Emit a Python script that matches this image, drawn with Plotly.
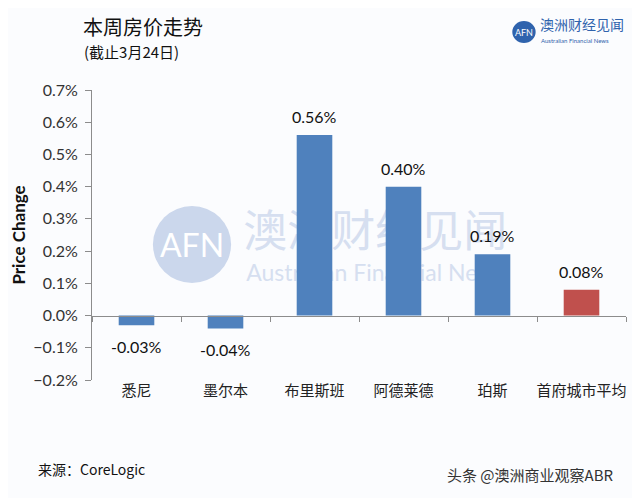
import plotly.graph_objects as go

cities = ["悉尼", "墨尔本", "布里斯班", "阿德莱德", "珀斯", "首府城市平均"]
changes = [-0.0003, -0.0004, 0.0056, 0.0040, 0.0019, 0.0008]
bar_colors = ["#4f81bd", "#4f81bd", "#4f81bd", "#4f81bd", "#4f81bd", "#c0504d"]
value_labels = ["-0.03%", "-0.04%", "0.56%", "0.40%", "0.19%", "0.08%"]
y_ticks = [-0.002, -0.001, 0.0, 0.001, 0.002, 0.003, 0.004, 0.005, 0.006, 0.007]

BG = "#fbfcfe"
NUM_FONT = "Lato, Noto Sans CJK SC, sans-serif"
CJK = "Noto Sans CJK SC, sans-serif"

fig = go.Figure()
fig.add_trace(go.Bar(
    x=cities, y=changes, marker=dict(color=bar_colors, line=dict(width=0)),
    width=0.4, showlegend=False, hoverinfo="skip",
))
# invisible trace to drive the zero-line category axis
fig.add_trace(go.Scatter(x=cities, y=[0] * len(cities), mode="none",
                         xaxis="x2", yaxis="y", showlegend=False, hoverinfo="skip"))

# value labels tied to data
for c, v, t in zip(cities, changes, value_labels):
    fig.add_annotation(x=c, y=v, text=t, showarrow=False,
                       yanchor="bottom" if v >= 0 else "top",
                       yshift=7 if v >= 0 else -10,
                       font=dict(family=NUM_FONT, size=16, color="#111"))

y_min, y_max = -0.002, 0.007
zero_pos = (0 - y_min) / (y_max - y_min)

fig.update_layout(
    width=632, height=490,
    paper_bgcolor=BG, plot_bgcolor=BG,
    margin=dict(l=84, r=14, t=82, b=118, autoexpand=False),
    xaxis=dict(type="category", categoryorder="array", categoryarray=cities,
               range=[-0.5, 5.5], showline=False, ticks="", showgrid=False,
               tickfont=dict(family=CJK, size=15, color="#222"), ticklabelstandoff=0),
    xaxis2=dict(type="category", categoryorder="array", categoryarray=cities,
                range=[-0.5, 5.5], overlaying="x", anchor="free", position=zero_pos,
                showline=True, linecolor="#8c8c8c", linewidth=1,
                ticks="outside", tickson="boundaries", ticklen=5, tickcolor="#8c8c8c",
                showticklabels=False, showgrid=False),
    yaxis=dict(range=[y_min, y_max], tickvals=y_ticks, tickformat=".1%",
               showline=True, linecolor="#8c8c8c", linewidth=1,
               ticks="outside", ticklen=6, tickcolor="#8c8c8c",
               showgrid=False, zeroline=False, ticklabelstandoff=4,
               tickfont=dict(family=NUM_FONT, size=16, color="#333"),
               title=dict(text="<b>Price Change</b>", standoff=10,
                          font=dict(family=NUM_FONT, size=17, color="#111"))),
)

def px_x(px):
    return (px - 92) / 526

def px_y(py):
    return (380 - py) / 290

# faint watermark behind bars
fig.add_shape(type="circle", xref="paper", yref="paper", layer="below",
              x0=px_x(152), x1=px_x(229), y0=px_y(283), y1=px_y(206),
              fillcolor="#cbd7ec", line=dict(width=0),
              label=dict(text="AFN", font=dict(family="Lato", size=32, color="white")))
fig.add_shape(type="rect", xref="paper", yref="paper", layer="below",
              x0=px_x(236), x1=px_x(506), y0=px_y(258), y1=px_y(212),
              fillcolor="rgba(0,0,0,0)", line=dict(width=0),
              label=dict(text="澳洲财经见闻", font=dict(family=CJK, size=44, color="#d6dff0")))
fig.add_shape(type="rect", xref="paper", yref="paper", layer="below",
              x0=px_x(238), x1=px_x(560), y0=px_y(282), y1=px_y(262),
              fillcolor="rgba(0,0,0,0)", line=dict(width=0),
              label=dict(text="Australian Financial News", textposition="middle left",
                         font=dict(family="Lato", size=23, color="#d6dff0")))

# top-right logo
fig.add_shape(type="circle", xref="paper", yref="paper",
              x0=px_x(506), x1=px_x(529), y0=px_y(43), y1=px_y(21),
              fillcolor="#2f63ad", line=dict(width=0),
              label=dict(text="AFN", font=dict(family="Lato", size=9, color="white")))

annotations = [
    dict(text="本周房价走势", x=81, y=26, font=dict(family=CJK, size=20, color="#111")),
    dict(text="(截止3月24日)", x=82, y=52, font=dict(family=CJK, size=15, color="#111")),
    dict(text="澳洲财经见闻", x=531, y=24, font=dict(family=CJK, size=14, color="#2f63ad")),
    dict(text="Australian Financial News", x=532, y=40, font=dict(family="Lato", size=6, color="#2f63ad")),
    dict(text="来源：CoreLogic", x=37, y=469, font=dict(family=CJK, size=14, color="#111")),
    dict(text="头条 @澳洲商业观察ABR", x=440, y=474, font=dict(family=CJK, size=15, color="#333")),
]
for a in annotations:
    fig.add_annotation(text=a["text"], xref="paper", yref="paper",
                       x=px_x(a["x"]), y=px_y(a["y"]),
                       xanchor="left", yanchor="middle", showarrow=False, font=a["font"])

fig.write_html("out.html")
